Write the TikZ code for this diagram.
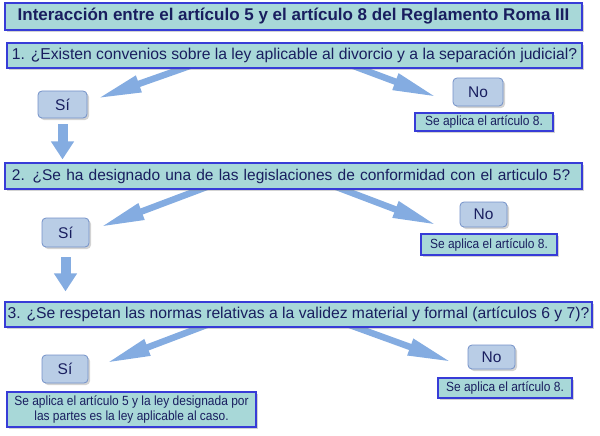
\documentclass[tikz,border=0pt]{standalone}
\usepackage{fontspec}
\setmainfont{Liberation Sans}
\newfontfamily\angosta[FakeStretch=0.9]{Liberation Sans}
\usetikzlibrary{arrows.meta,shadows,backgrounds,calc}
\definecolor{cajaazul}{RGB}{168,216,216}
\definecolor{bordeazul}{RGB}{55,60,215}
\definecolor{botonazul}{RGB}{185,205,230}
\definecolor{bordeboton}{RGB}{115,145,200}
\definecolor{textoazul}{RGB}{25,30,95}
\definecolor{flechaazul}{RGB}{132,172,225}
\begin{document}
\begin{tikzpicture}[x=1pt,y=1pt,
		sombra/.style={drop shadow={shadow xshift=2pt,shadow yshift=-2pt,opacity=0.35}},
		caja/.style={draw=bordeazul,line width=1.2pt,fill=cajaazul,text=textoazul,inner sep=0pt,sombra},
		pregunta/.style={caja,minimum height=25pt,font=\fontsize{15.7}{18}\selectfont},
		boton/.style={draw=bordeboton,line width=0.8pt,fill=botonazul,rounded corners=4pt,text=textoazul,inner sep=0pt,font=\fontsize{15.5}{18}\selectfont,sombra},
		resultado/.style={caja,font=\angosta\fontsize{13.3}{15}\selectfont},
		flecha/.style={draw=flechaazul,line width=6.5pt,-{Triangle[length=44pt,width=16pt]}},
		bajada/.style={draw=flechaazul,line width=10pt,-{Triangle[length=18pt,width=22pt]}}]
	\useasboundingbox (0,0) rectangle (600,-436);
	\node [caja,minimum width=577pt,minimum height=27pt,font=\fontsize{17}{19}\selectfont\bfseries] (titulo) at (293.5,-16.5) {Interacción entre el artículo 5 y el artículo 8 del Reglamento Roma III};
	\node [pregunta,minimum width=575pt] (q1) at (294.5,-55.5) {1. ¿Existen convenios sobre la ley aplicable al divorcio y a la separación judicial?};
	\node [pregunta,minimum width=577pt,minimum height=26pt,text width=563pt,align=left,font=\fontsize{15.5}{18}\selectfont] (q2) at (293.5,-176) {2. ¿Se ha designado una de las legislaciones de conformidad con el articulo 5?};
	\node [pregunta,minimum width=587pt] (q3) at (298.5,-314.5) {3. ¿Se respetan las normas relativas a la validez material y formal (artículos 6 y 7)?};
	\node [boton,minimum width=49pt,minimum height=27pt] (si1) at (62.5,-104.5) {Sí};
	\node [boton,minimum width=50pt,minimum height=28pt] (no1) at (478,-92) {No};
	\node [resultado,minimum width=138pt,minimum height=18pt] (r1) at (484,-122) {Se aplica el artículo 8.};
	\node [boton,minimum width=47pt,minimum height=29pt] (si2) at (65.5,-232.5) {Sí};
	\node [boton,minimum width=47pt,minimum height=25pt] (no2) at (483.5,-214.5) {No};
	\node [resultado,minimum width=136pt,minimum height=21pt] (r2) at (489,-244.5) {Se aplica el artículo 8.};
	\node [boton,minimum width=46pt,minimum height=28pt] (si3) at (65,-369) {Sí};
	\node [boton,minimum width=47pt,minimum height=24pt] (no3) at (491.5,-357) {No};
	\node [resultado,minimum width=134pt,minimum height=20pt] (r3) at (505,-388) {Se aplica el artículo 8.};
	\node [resultado,minimum width=249pt,minimum height=35pt,align=center] (r4) at (131.5,-409.5) {Se aplica el artículo 5 y la ley designada por\\las partes es la ley aplicable al caso.};
	\begin{scope}[on background layer]
		\draw [flecha] ([xshift=-98pt,yshift=5pt]q1.south) -- ([xshift=10pt,yshift=6pt]si1.east);
		\draw [flecha] ([xshift=52.5pt,yshift=5pt]q1.south) -- ([xshift=-16pt,yshift=-5pt]no1.west);
		\draw [flecha] ([xshift=-80.5pt,yshift=5pt]q2.south) -- ([xshift=11pt,yshift=5.5pt]si2.east);
		\draw [flecha] ([xshift=36.5pt,yshift=5pt]q2.south) -- ([xshift=-23pt,yshift=-10.5pt]no2.west);
		\draw [flecha] ([xshift=-85.5pt,yshift=5pt]q3.south) -- ([xshift=18pt,yshift=6pt]si3.east);
		\draw [flecha] ([xshift=44.5pt,yshift=5pt]q3.south) -- ([xshift=-16pt,yshift=-5pt]no3.west);
		\draw [bajada] ([yshift=-6pt]si1.south) -- ($(q2.north -| si1.south)+(0,3)$);
		\draw [bajada] ([yshift=-10pt]si2.south) -- ($(q3.north -| si2.south)+(0,10)$);
	\end{scope}
\end{tikzpicture}
\end{document}
